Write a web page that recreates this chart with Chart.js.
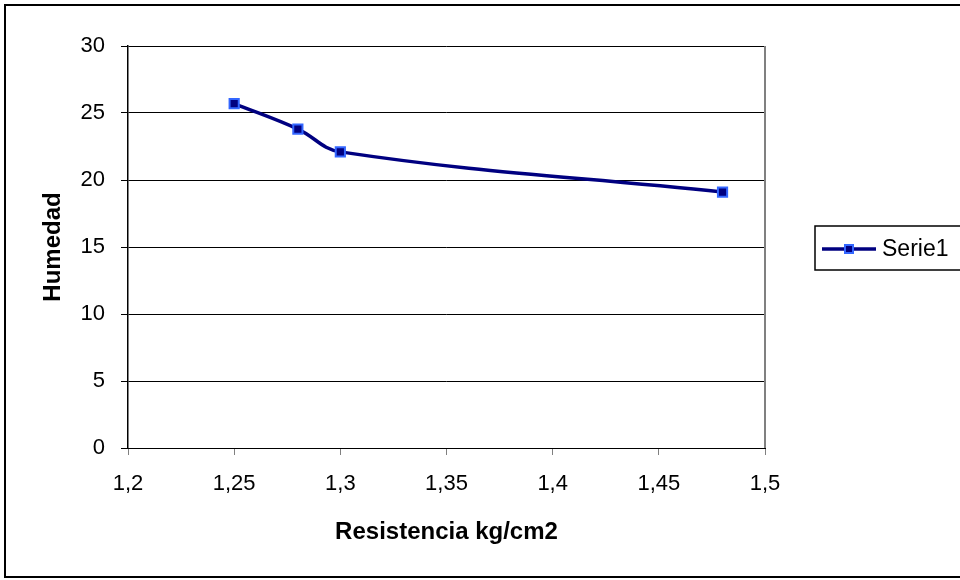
<!DOCTYPE html>
<html>
<head>
<meta charset="utf-8">
<script src="https://cdn.jsdelivr.net/npm/chart.js@4"></script>
<style>
  body { margin: 0; background: #fff; }
  #wrap { width: 960px; height: 580px; position: relative; }
</style>
</head>
<body>
<div id="wrap"><canvas id="myChart"></canvas></div>
<script>
const resistencia = [1.25, 1.28, 1.30, 1.48];
const humedad = [25.7, 23.8, 22.1, 19.1];
const seriesName = "Serie1";
const xTitle = "Resistencia kg/cm2";
const yTitle = "Humedad";

const FONT = "'Liberation Sans', Arial, sans-serif";
const lineColor = "#000080";
const markerEdge = "#3366ff";

// outer frame, right edge of plot area and the legend box
const frame = {
  id: "frame",
  afterDraw(chart) {
    const c = chart.ctx;
    const a = chart.chartArea;
    c.save();
    c.strokeStyle = "#808080";
    c.lineWidth = 2;
    c.beginPath();
    c.moveTo(a.right, a.top);
    c.lineTo(a.right, a.bottom);
    c.stroke();

    c.strokeStyle = "#000";
    c.lineWidth = 2;
    c.strokeRect(5, 5, 970, 572);

    // legend
    c.lineWidth = 1.5;
    c.strokeRect(815, 226, 160, 44);
    const ly = 249;
    c.strokeStyle = lineColor;
    c.lineWidth = 3.5;
    c.beginPath();
    c.moveTo(822, ly);
    c.lineTo(876, ly);
    c.stroke();
    c.fillStyle = lineColor;
    c.fillRect(845, ly - 4, 8, 8);
    c.strokeStyle = markerEdge;
    c.lineWidth = 2;
    c.strokeRect(845, ly - 4, 8, 8);
    c.fillStyle = "#000";
    c.font = "23px " + FONT;
    c.textBaseline = "middle";
    c.fillText(seriesName, 882, ly + 1);
    c.restore();
  }
};

const ctx = document.getElementById("myChart");

new Chart(ctx, {
  type: "scatter",
  data: {
    datasets: [{
      label: seriesName,
      data: resistencia.map((x, i) => ({x: x, y: humedad[i]})),
      showLine: true,
      tension: 0.4,
      borderColor: lineColor,
      borderWidth: 3.5,
      pointStyle: "rect",
      pointRadius: 6.5,
      pointBorderWidth: 2,
      pointBorderColor: markerEdge,
      pointBackgroundColor: lineColor,
      clip: false
    }]
  },
  options: {
    responsive: true,
    maintainAspectRatio: false,
    animation: false,
    layout: {padding: {left: 0, right: 195, top: 46, bottom: 0}},
    plugins: {
      legend: {display: false},
      tooltip: {enabled: false}
    },
    scales: {
      x: {
        type: "linear",
        min: 1.2,
        max: 1.5,
        afterFit(scale) { scale.height = 132; },
        ticks: {
          stepSize: 0.05,
          padding: 16,
          color: "#000",
          font: {family: FONT, size: 22},
          maxRotation: 0,
          callback: v => String(Number(v.toFixed(2))).replace(".", ",")
        },
        grid: {drawOnChartArea: false, drawTicks: true, tickLength: 7, color: "#808080"},
        border: {color: "#000", width: 1},
        title: {
          display: true,
          text: xTitle,
          color: "#000",
          font: {family: FONT, size: 24, weight: "bold"},
          padding: 33
        }
      },
      y: {
        min: 0,
        max: 30,
        afterFit(scale) { scale.width = 128; },
        ticks: {
          stepSize: 5,
          padding: 16,
          color: "#000",
          font: {family: FONT, size: 22}
        },
        grid: {color: "#000", lineWidth: 1, tickLength: 7},
        border: {color: "#000", width: 1.5},
        title: {
          display: true,
          text: yTitle,
          color: "#000",
          font: {family: FONT, size: 24, weight: "bold"},
          padding: 39
        }
      }
    }
  },
  plugins: [frame]
});
</script>
</body>
</html>
